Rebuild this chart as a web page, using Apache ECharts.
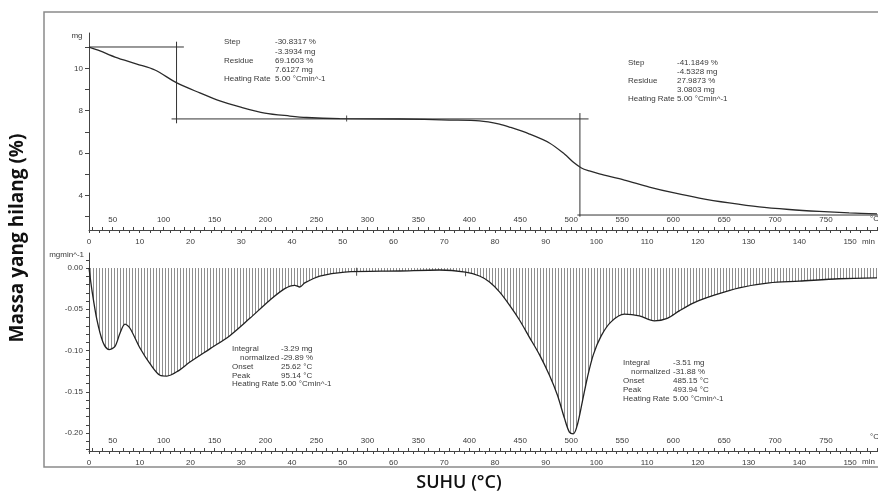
<!DOCTYPE html>
<html>
<head>
<meta charset="utf-8">
<script src="https://cdn.jsdelivr.net/npm/echarts@6/dist/echarts.min.js"></script>
<style>
  html, body { margin: 0; padding: 0; background: #fff; }
  #chart { width: 878px; height: 493px; }
</style>
</head>
<body>
<div id="chart"></div>
<script>
// tick labels
const timeLabels = [0, 10, 20, 30, 40, 50, 60, 70, 80, 90, 100, 110, 120, 130, 140, 150];
const tempLabels = [50, 100, 150, 200, 250, 300, 350, 400, 450, 500, 550, 600, 650, 700, 750];
const massLabels = [4, 6, 8, 10];
const dtgLabels = [0, -0.05, -0.1, -0.15, -0.2];

// TG curve (temperature degC, mass mg)
const tgTemp = [26.8, 37.6, 52.3, 73.8, 91.5, 113, 135.6, 155.2, 174.8, 199.3, 223.8, 240.4, 272.8, 331.6, 380.6, 410,
  429.6, 439.4, 459, 478.6, 493.3, 503.1, 510, 517.8, 527.6, 552.1, 576.6, 601.1, 625.6, 655, 684.4, 713.8, 743.2, 772.6, 800];
const tgMass = [11.0, 10.82, 10.53, 10.2, 9.92, 9.31, 8.84, 8.46, 8.18, 7.89, 7.75, 7.68, 7.63, 7.61, 7.56, 7.52,
  7.37, 7.23, 6.9, 6.48, 5.96, 5.53, 5.3, 5.16, 5.02, 4.73, 4.4, 4.12, 3.88, 3.65, 3.46, 3.34, 3.25, 3.18, 3.13];

// DTG curve (temperature degC, rate mg/min)
const dtgTemp = [26.8, 29.7, 34.6, 40.5, 46.4, 52.3, 57.2, 62.1, 67, 76.8, 86.6, 96.4, 103.2, 114, 125.8, 145.4, 165,
  184.6, 204.2, 218.9, 228.7, 233.6, 238.5, 253.2, 277.7, 331.6, 370.8, 396.3, 410, 419.8, 429.6, 439.4, 449.2, 459,
  468.8, 478.6, 486.4, 493.3, 498.2, 502.1, 506, 510.9, 515.8, 521.7, 529.5, 539.3, 552.1, 566.8, 581.5, 594.2, 606,
  620.7, 640.3, 664.8, 694.2, 723.6, 762.8, 800];
const dtgRate = [0, -0.027, -0.063, -0.09, -0.099, -0.095, -0.079, -0.068, -0.073, -0.097, -0.116, -0.13, -0.131,
  -0.125, -0.114, -0.098, -0.082, -0.061, -0.039, -0.025, -0.021, -0.023, -0.018, -0.0097, -0.005, -0.0036, -0.0024,
  -0.005, -0.0097, -0.017, -0.029, -0.045, -0.063, -0.084, -0.105, -0.13, -0.154, -0.182, -0.199, -0.201, -0.19,
  -0.162, -0.133, -0.105, -0.082, -0.065, -0.056, -0.058, -0.064, -0.061, -0.052, -0.042, -0.033, -0.024, -0.018,
  -0.016, -0.013, -0.012];

// step evaluation lines (temperature degC, mass mg)
const stepLines = [
  [[26.8, 11.006], [119.9, 11.006]],
  [[112.7, 11.256], [112.7, 7.407]],
  [[107.8, 7.6127], [517, 7.6127]],
  [[508.5, 7.89], [508.5, 3.0]],
  [[506, 3.0803], [801, 3.0803]]
];
const tgMarks = [[279.6, 7.63]];
const dtgMarks = [[289.4, -0.0045], [396.3, -0.005]];

// annotation texts
const note1Labels = ['Step', '', 'Residue', '', 'Heating Rate'];
const note1Values = ['-30.8317 %', '-3.3934 mg', '69.1603 %', '7.6127 mg', '5.00 °Cmin^-1'];
const note2Labels = ['Step', '', 'Residue', '', 'Heating Rate'];
const note2Values = ['-41.1849 %', '-4.5328 mg', '27.9873 %', '3.0803 mg', '5.00 °Cmin^-1'];
const note3Labels = ['Integral', '  normalized', 'Onset', 'Peak', 'Heating Rate'];
const note3Values = ['-3.29 mg', '-29.89 %', '25.62 °C', '95.14 °C', '5.00 °Cmin^-1'];
const note4Labels = ['Integral', '  normalized', 'Onset', 'Peak', 'Heating Rate'];
const note4Values = ['-3.51 mg', '-31.88 %', '485.15 °C', '493.94 °C', '5.00 °Cmin^-1'];

const font = 'Liberation Sans';
const ink = '#3a3a3a';

function range(a, b, step) {
  const out = [];
  for (let v = a; v <= b + 1e-9; v += step) out.push(Math.round(v * 1000) / 1000);
  return out;
}
const timeTicks = range(0, 154, 2);
const tempTicks = range(30, 800, 10);
const massTicks = range(3, 11, 1);
const dtgTicks = range(-0.22, 0.01, 0.01);

// vertical hatch used for the DTG area
const hatch = document.createElement('canvas');
hatch.width = 3;
hatch.height = 4;
const hctx = hatch.getContext('2d');
hctx.fillStyle = '#8e8e8e';
hctx.fillRect(0, 0, 1, 4);

function noteBlock(labels, values, x1, x2, y0, dy) {
  const els = [];
  labels.forEach(function (t, i) {
    if (t) {
      const indent = t.indexOf('  ') === 0 ? 8 : 0;
      els.push({ type: 'text', x: x1 + indent, y: y0 + i * dy,
        style: { text: t.trim(), font: '8px ' + font, fill: ink, align: 'left', verticalAlign: 'middle' } });
    }
    els.push({ type: 'text', x: x2, y: y0 + i * dy,
      style: { text: values[i], font: '8px ' + font, fill: ink, align: 'left', verticalAlign: 'middle' } });
  });
  return els;
}

function timeAxis(grid) {
  return {
    gridIndex: grid, type: 'value', min: 0, max: 155.5, position: 'bottom',
    axisLine: { onZero: false, lineStyle: { color: '#444', width: 1 } },
    axisTick: { customValues: timeTicks, length: 3, lineStyle: { color: '#444' } },
    axisLabel: { customValues: timeLabels, fontSize: 8, fontFamily: font, color: ink, margin: 8 },
    splitLine: { show: false }
  };
}
function tempAxis(grid) {
  return {
    gridIndex: grid, type: 'value', min: 26.8, max: 801, position: 'bottom',
    axisLine: { show: false, onZero: false },
    axisTick: { inside: true, customValues: tempTicks, length: 3, lineStyle: { color: '#444' } },
    axisLabel: { inside: true, customValues: tempLabels, fontSize: 8, fontFamily: font, color: ink, margin: 6 },
    splitLine: { show: false }
  };
}

const chart = echarts.init(document.getElementById('chart'));
const series = [];
stepLines.forEach(function (seg) {
  series.push({ type: 'line', xAxisIndex: 1, yAxisIndex: 0, data: seg, showSymbol: false, silent: true,
    lineStyle: { color: '#333', width: 1 } });
});
series.push({
  type: 'line', xAxisIndex: 1, yAxisIndex: 0, showSymbol: false, smooth: 0.3,
  data: tgTemp.map(function (t, i) { return [t, tgMass[i]]; }),
  lineStyle: { color: '#2a2a2a', width: 1.3 }
});
series.push({
  type: 'line', xAxisIndex: 3, yAxisIndex: 1, showSymbol: false, smooth: 0.3,
  data: dtgTemp.map(function (t, i) { return [t, dtgRate[i]]; }),
  lineStyle: { color: '#222', width: 1.3 },
  areaStyle: { color: { image: hatch, repeat: 'repeat' }, opacity: 1 }
});
series.push({ type: 'scatter', xAxisIndex: 1, yAxisIndex: 0, data: tgMarks, symbol: 'rect', symbolSize: [1, 6],
  itemStyle: { color: '#222' } });
series.push({ type: 'scatter', xAxisIndex: 3, yAxisIndex: 1, data: dtgMarks, symbol: 'rect', symbolSize: [1, 8],
  itemStyle: { color: '#222' } });

chart.setOption({
  animation: false,
  grid: [
    { left: 89, top: 33, width: 790, height: 197 },
    { left: 89, top: 253, width: 790, height: 198 }
  ],
  xAxis: [timeAxis(0), tempAxis(0), timeAxis(1), tempAxis(1)],
  yAxis: [
    {
      gridIndex: 0, type: 'value', min: 2.374, max: 11.666,
      axisLine: { show: true, onZero: false, lineStyle: { color: '#444' } },
      axisTick: { show: true, customValues: massTicks, length: 4, lineStyle: { color: '#444' } },
      axisLabel: { customValues: massLabels, fontSize: 8, fontFamily: font, color: ink, margin: 6 },
      splitLine: { show: false }
    },
    {
      gridIndex: 1, type: 'value', min: -0.2218, max: 0.0182,
      axisLine: { show: true, onZero: false, lineStyle: { color: '#444' } },
      axisTick: { show: true, customValues: dtgTicks, length: 3, lineStyle: { color: '#444' } },
      axisLabel: { customValues: dtgLabels, fontSize: 8, fontFamily: font, color: ink, margin: 6,
        formatter: function (v) { return v.toFixed(2); } },
      splitLine: { show: false }
    }
  ],
  series: series,
  graphic: [
    { type: 'rect', shape: { x: 44, y: 12, width: 840, height: 455 }, silent: true,
      style: { fill: 'none', stroke: '#8a8a8a', lineWidth: 1.5 } },
    { type: 'text', x: 77, y: 36, style: { text: 'mg', font: '8px ' + font, fill: ink, align: 'center', verticalAlign: 'middle' } },
    { type: 'text', x: 84, y: 255, style: { text: 'mgmin^-1', font: '8px ' + font, fill: ink, align: 'right', verticalAlign: 'middle' } },
    { type: 'text', x: 870, y: 219, style: { text: '°C', font: '8px ' + font, fill: ink, align: 'left', verticalAlign: 'middle' } },
    { type: 'text', x: 862, y: 242, style: { text: 'min', font: '8px ' + font, fill: ink, align: 'left', verticalAlign: 'middle' } },
    { type: 'text', x: 870, y: 437, style: { text: '°C', font: '8px ' + font, fill: ink, align: 'left', verticalAlign: 'middle' } },
    { type: 'text', x: 862, y: 462, style: { text: 'min', font: '8px ' + font, fill: ink, align: 'left', verticalAlign: 'middle' } },
    { type: 'text', x: 18, y: 238, rotation: Math.PI / 2,
      style: { text: 'Massa yang hilang (%)', font: 'bold 19px "Open Sans"', fill: '#111', align: 'center', verticalAlign: 'middle' } },
    { type: 'text', x: 459, y: 483,
      style: { text: 'SUHU (°C)', font: '600 18px "Open Sans"', fill: '#111', align: 'center', verticalAlign: 'middle' } }
  ].concat(
    noteBlock(note1Labels, note1Values, 224, 275, 42, 9.3),
    noteBlock(note2Labels, note2Values, 628, 677, 63, 9),
    noteBlock(note3Labels, note3Values, 232, 281, 349, 8.8),
    noteBlock(note4Labels, note4Values, 623, 673, 363, 9)
  )
});
</script>
</body>
</html>
